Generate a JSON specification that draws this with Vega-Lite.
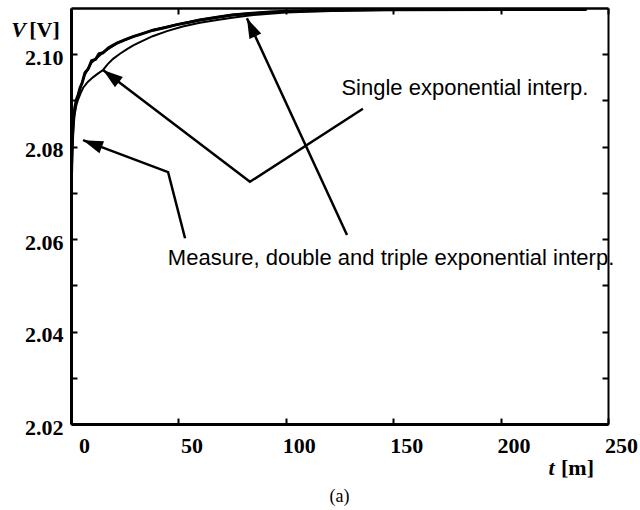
{
  "$schema": "https://vega.github.io/schema/vega-lite/v6.json",
  "width": 537,
  "height": 416,
  "autosize": {"type": "none"},
  "padding": {"left": 71, "top": 8, "right": 32, "bottom": 86},
  "background": "white",
  "config": {"view": {"stroke": null}},
  "title": {"text": "(a)", "orient": "bottom", "anchor": "middle", "font": "Liberation Serif", "fontSize": 18, "fontWeight": "normal", "color": "black", "offset": 10},
  "datasets": {
    "curves": [
      {"series": "Measure", "t": 0, "v": 2.0641},
      {"series": "Measure", "t": 0.1, "v": 2.0690},
      {"series": "Measure", "t": 0.25, "v": 2.0740},
      {"series": "Measure", "t": 0.45, "v": 2.0785},
      {"series": "Measure", "t": 0.7, "v": 2.0825},
      {"series": "Measure", "t": 1.0, "v": 2.0852},
      {"series": "Measure", "t": 1.4, "v": 2.0873},
      {"series": "Measure", "t": 1.9, "v": 2.0888},
      {"series": "Measure", "t": 2.6, "v": 2.0903},
      {"series": "Measure", "t": 3.4, "v": 2.0913},
      {"series": "Measure", "t": 4.2, "v": 2.0927},
      {"series": "Measure", "t": 5.2, "v": 2.0938},
      {"series": "Measure", "t": 6.5, "v": 2.0960},
      {"series": "Measure", "t": 8.0, "v": 2.0968},
      {"series": "Measure", "t": 9.6, "v": 2.0986},
      {"series": "Measure", "t": 11.5, "v": 2.0989},
      {"series": "Measure", "t": 13.0, "v": 2.1001},
      {"series": "Measure", "t": 14.9, "v": 2.1003},
      {"series": "Measure", "t": 17.5, "v": 2.1014},
      {"series": "Measure", "t": 21.4, "v": 2.1024},
      {"series": "Measure", "t": 25, "v": 2.1031},
      {"series": "Measure", "t": 28.9, "v": 2.1038},
      {"series": "Measure", "t": 33, "v": 2.1044},
      {"series": "Measure", "t": 38.2, "v": 2.1052},
      {"series": "Measure", "t": 44, "v": 2.1058},
      {"series": "Measure", "t": 49.3, "v": 2.1064},
      {"series": "Measure", "t": 55, "v": 2.1069},
      {"series": "Measure", "t": 60, "v": 2.1074},
      {"series": "Measure", "t": 68, "v": 2.1080},
      {"series": "Measure", "t": 75, "v": 2.1085},
      {"series": "Measure", "t": 83, "v": 2.1088},
      {"series": "Measure", "t": 91, "v": 2.1091},
      {"series": "Measure", "t": 100, "v": 2.1093},
      {"series": "Measure", "t": 110, "v": 2.1094},
      {"series": "Measure", "t": 125, "v": 2.1095},
      {"series": "Measure", "t": 150, "v": 2.1096},
      {"series": "Measure", "t": 200, "v": 2.1097},
      {"series": "Measure", "t": 240, "v": 2.1097},
      {"series": "Double", "t": 0, "v": 2.0645},
      {"series": "Double", "t": 0.25, "v": 2.0738},
      {"series": "Double", "t": 0.7, "v": 2.0822},
      {"series": "Double", "t": 1.4, "v": 2.0872},
      {"series": "Double", "t": 2.6, "v": 2.0900},
      {"series": "Double", "t": 4.2, "v": 2.0924},
      {"series": "Double", "t": 6.5, "v": 2.0955},
      {"series": "Double", "t": 9.6, "v": 2.0981},
      {"series": "Double", "t": 14.9, "v": 2.1003},
      {"series": "Double", "t": 21.4, "v": 2.1023},
      {"series": "Double", "t": 28.9, "v": 2.1037},
      {"series": "Double", "t": 38.2, "v": 2.1051},
      {"series": "Double", "t": 49.3, "v": 2.1063},
      {"series": "Double", "t": 60, "v": 2.1073},
      {"series": "Double", "t": 75, "v": 2.1084},
      {"series": "Double", "t": 91, "v": 2.1090},
      {"series": "Double", "t": 110, "v": 2.1094},
      {"series": "Double", "t": 150, "v": 2.1096},
      {"series": "Double", "t": 240, "v": 2.1097},
      {"series": "Triple", "t": 0, "v": 2.0642},
      {"series": "Triple", "t": 0.25, "v": 2.0741},
      {"series": "Triple", "t": 0.7, "v": 2.0826},
      {"series": "Triple", "t": 1.4, "v": 2.0875},
      {"series": "Triple", "t": 2.6, "v": 2.0903},
      {"series": "Triple", "t": 4.2, "v": 2.0927},
      {"series": "Triple", "t": 6.5, "v": 2.0958},
      {"series": "Triple", "t": 9.6, "v": 2.0984},
      {"series": "Triple", "t": 14.9, "v": 2.1005},
      {"series": "Triple", "t": 21.4, "v": 2.1025},
      {"series": "Triple", "t": 28.9, "v": 2.1039},
      {"series": "Triple", "t": 38.2, "v": 2.1053},
      {"series": "Triple", "t": 49.3, "v": 2.1065},
      {"series": "Triple", "t": 60, "v": 2.1075},
      {"series": "Triple", "t": 75, "v": 2.1086},
      {"series": "Triple", "t": 91, "v": 2.1092},
      {"series": "Triple", "t": 110, "v": 2.1095},
      {"series": "Triple", "t": 150, "v": 2.1097},
      {"series": "Triple", "t": 240, "v": 2.1098},
      {"series": "Single", "t": 0, "v": 2.0652},
      {"series": "Single", "t": 0.3, "v": 2.0740},
      {"series": "Single", "t": 0.7, "v": 2.0793},
      {"series": "Single", "t": 1.1, "v": 2.0835},
      {"series": "Single", "t": 1.6, "v": 2.0866},
      {"series": "Single", "t": 2.4, "v": 2.0888},
      {"series": "Single", "t": 3.3, "v": 2.0902},
      {"series": "Single", "t": 4.4, "v": 2.0915},
      {"series": "Single", "t": 5.6, "v": 2.0927},
      {"series": "Single", "t": 7.8, "v": 2.0940},
      {"series": "Single", "t": 10.2, "v": 2.0950},
      {"series": "Single", "t": 12.5, "v": 2.0958},
      {"series": "Single", "t": 14.9, "v": 2.0966},
      {"series": "Single", "t": 17, "v": 2.0978},
      {"series": "Single", "t": 19.6, "v": 2.0990},
      {"series": "Single", "t": 22.8, "v": 2.1001},
      {"series": "Single", "t": 26.1, "v": 2.1011},
      {"series": "Single", "t": 29, "v": 2.1019},
      {"series": "Single", "t": 32.1, "v": 2.1026},
      {"series": "Single", "t": 38, "v": 2.1039},
      {"series": "Single", "t": 44.7, "v": 2.1050},
      {"series": "Single", "t": 52, "v": 2.1060},
      {"series": "Single", "t": 60, "v": 2.1068},
      {"series": "Single", "t": 68, "v": 2.1074},
      {"series": "Single", "t": 75, "v": 2.1079},
      {"series": "Single", "t": 83, "v": 2.1084},
      {"series": "Single", "t": 91, "v": 2.1087},
      {"series": "Single", "t": 100, "v": 2.1090},
      {"series": "Single", "t": 110, "v": 2.1092},
      {"series": "Single", "t": 125, "v": 2.1094},
      {"series": "Single", "t": 150, "v": 2.1096},
      {"series": "Single", "t": 200, "v": 2.1097},
      {"series": "Single", "t": 240, "v": 2.1097}
    ],
    "pointers": [
      {"arrow": "a1", "seq": 1, "t": 53.1, "v": 2.0602},
      {"arrow": "a1", "seq": 2, "t": 45.2, "v": 2.0745},
      {"arrow": "a1", "seq": 3, "t": 5.6, "v": 2.0814},
      {"arrow": "a2", "seq": 1, "t": 135.9, "v": 2.0882},
      {"arrow": "a2", "seq": 2, "t": 83.3, "v": 2.0724},
      {"arrow": "a2", "seq": 3, "t": 14.9, "v": 2.0966},
      {"arrow": "a3", "seq": 1, "t": 128.5, "v": 2.0609},
      {"arrow": "a3", "seq": 2, "t": 81.9, "v": 2.1078}
    ],
    "heads": [
      {"arrow": "a1", "t": 5.6, "v": 2.0814},
      {"arrow": "a2", "t": 14.9, "v": 2.0966},
      {"arrow": "a3", "t": 81.9, "v": 2.1078}
    ],
    "notes": [
      {"label": "Single exponential interp.", "t": 183.4, "v": 2.0927},
      {"label": "Measure, double and triple exponential interp.", "t": 149.0, "v": 2.0559}
    ]
  },
  "resolve": {"axis": {"x": "independent", "y": "independent"}},
  "layer": [
    {
      "data": {"name": "curves"},
      "transform": [{"filter": "datum.series === 'Measure'"}],
      "mark": {"type": "line", "color": "black", "strokeWidth": 3, "clip": true},
      "encoding": {
        "x": {"field": "t", "type": "quantitative", "scale": {"domain": [0, 250], "nice": false},
          "axis": {"orient": "bottom", "values": [0, 50, 100, 150, 200, 250], "tickSize": -6, "tickWidth": 2, "tickColor": "black",
            "domain": true, "domainColor": "black", "domainWidth": 3, "grid": false,
            "labelFont": "Liberation Serif", "labelFontWeight": "bold", "labelFontSize": 22, "labelColor": "black", "labelPadding": 17, "labelOffset": 13, "labelBaseline": "top", "labelFlush": false, "labelOverlap": false,
            "title": "t", "titleFont": "Liberation Serif", "titleFontStyle": "italic", "titleFontWeight": "bold", "titleFontSize": 22, "titleColor": "black", "titleX": 480, "titleY": 43, "titleAlign": "center", "titleBaseline": "middle", "titleAngle": 0}},
        "y": {"field": "v", "type": "quantitative", "scale": {"domain": [2.02, 2.11], "nice": false, "zero": false},
          "axis": {"orient": "left", "values": [2.02, 2.03, 2.04, 2.05, 2.06, 2.07, 2.08, 2.09, 2.10], "tickSize": -6, "tickWidth": 2, "tickColor": "black",
            "labelExpr": "round(datum.value * 100) % 2 === 0 ? format(datum.value, '.2f') : ''",
            "domain": true, "domainColor": "black", "domainWidth": 3, "grid": false,
            "labelFont": "Liberation Serif", "labelFontWeight": "bold", "labelFontSize": 22, "labelColor": "black", "labelPadding": 14, "labelOffset": 3, "labelFlush": false, "labelOverlap": false,
            "title": "V", "titleFont": "Liberation Serif", "titleFontStyle": "italic", "titleFontWeight": "bold", "titleFontSize": 22, "titleColor": "black", "titleX": -53, "titleY": 21, "titleAlign": "center", "titleBaseline": "middle", "titleAngle": 0}}
      }
    },
    {
      "data": {"name": "curves"},
      "transform": [{"filter": "datum.series === 'Single'"}],
      "mark": {"type": "line", "color": "black", "strokeWidth": 2, "clip": true},
      "encoding": {
        "x": {"field": "t", "type": "quantitative",
          "axis": {"orient": "top", "values": [0, 50, 100, 150, 200, 250], "tickSize": -6, "tickWidth": 2, "tickColor": "black", "labels": false,
            "domain": true, "domainColor": "black", "domainWidth": 2.5, "grid": false,
            "title": "[m]", "titleFont": "Liberation Serif", "titleFontWeight": "bold", "titleFontSize": 22, "titleColor": "black", "titleX": 506, "titleY": 459, "titleAlign": "center", "titleBaseline": "middle", "titleAngle": 0}},
        "y": {"field": "v", "type": "quantitative",
          "axis": {"orient": "right", "values": [2.02, 2.03, 2.04, 2.05, 2.06, 2.07, 2.08, 2.09, 2.10], "tickSize": -6, "tickWidth": 2, "tickColor": "black", "labels": false,
            "domain": true, "domainColor": "black", "domainWidth": 2, "grid": false,
            "title": "[V]", "titleFont": "Liberation Serif", "titleFontWeight": "bold", "titleFontSize": 22, "titleColor": "black", "titleX": -564, "titleY": 21, "titleAlign": "center", "titleBaseline": "middle", "titleAngle": 0}}
      }
    },
    {
      "data": {"name": "curves"},
      "transform": [{"filter": "datum.series === 'Double' || datum.series === 'Triple'"}],
      "mark": {"type": "line", "color": "black", "strokeWidth": 1.5, "clip": true},
      "encoding": {
        "x": {"field": "t", "type": "quantitative", "axis": null},
        "y": {"field": "v", "type": "quantitative", "axis": null},
        "detail": {"field": "series"}
      }
    },
    {
      "data": {"name": "pointers"},
      "mark": {"type": "line", "color": "black", "strokeWidth": 2.5},
      "encoding": {
        "x": {"field": "t", "type": "quantitative", "axis": null},
        "y": {"field": "v", "type": "quantitative", "axis": null},
        "detail": {"field": "arrow"},
        "order": {"field": "seq"}
      }
    },
    {
      "data": {"name": "heads"},
      "transform": [{"filter": "datum.arrow === 'a1'"}],
      "mark": {"type": "point", "shape": "M0,0L-0.65,2L0.65,2Z", "size": 400, "angle": 290.6, "filled": true, "color": "black", "opacity": 1, "strokeWidth": 0},
      "encoding": {
        "x": {"field": "t", "type": "quantitative", "axis": null},
        "y": {"field": "v", "type": "quantitative", "axis": null}
      }
    },
    {
      "data": {"name": "heads"},
      "transform": [{"filter": "datum.arrow === 'a2'"}],
      "mark": {"type": "point", "shape": "M0,0L-0.65,2L0.65,2Z", "size": 400, "angle": 307.3, "filled": true, "color": "black", "opacity": 1, "strokeWidth": 0},
      "encoding": {
        "x": {"field": "t", "type": "quantitative", "axis": null},
        "y": {"field": "v", "type": "quantitative", "axis": null}
      }
    },
    {
      "data": {"name": "heads"},
      "transform": [{"filter": "datum.arrow === 'a3'"}],
      "mark": {"type": "point", "shape": "M0,0L-0.65,2L0.65,2Z", "size": 400, "angle": 335.2, "filled": true, "color": "black", "opacity": 1, "strokeWidth": 0},
      "encoding": {
        "x": {"field": "t", "type": "quantitative", "axis": null},
        "y": {"field": "v", "type": "quantitative", "axis": null}
      }
    },
    {
      "data": {"name": "notes"},
      "mark": {"type": "text", "font": "Liberation Sans", "fontSize": 22, "color": "black", "align": "center", "baseline": "middle"},
      "encoding": {
        "x": {"field": "t", "type": "quantitative", "axis": null},
        "y": {"field": "v", "type": "quantitative", "axis": null},
        "text": {"field": "label"}
      }
    }
  ]
}
